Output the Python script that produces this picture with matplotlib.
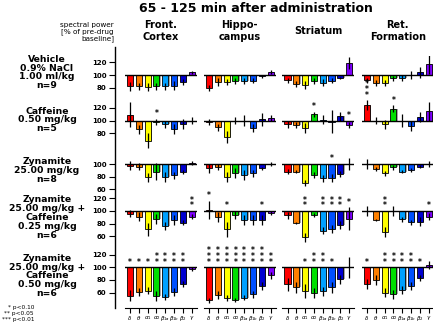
import matplotlib
matplotlib.use("Agg")
import matplotlib.pyplot as plt

W, H = 433, 327

# frequency bands and their colours
bands = [r'$\delta$', r'$\theta$', r'$\alpha_1$', r'$\alpha_2$',
         r'$\beta_{1\!a}$', r'$\beta_{1\!b}$', r'$\beta_2$', r'$\gamma$']
band_colors = ['#ff0000', '#ff8000', '#ffff00', '#00e000',
               '#00a0ff', '#0050ff', '#0000d0', '#8000ff']
regions = ['Front.\nCortex', 'Hippo-\ncampus', 'Striatum', 'Ret.\nFormation']
groups = ['Vehicle\n0.9% NaCl\n1.00 ml/kg\nn=9',
          'Caffeine\n0.50 mg/kg\nn=5',
          'Zynamite\n25.00 mg/kg\nn=8',
          'Zynamite\n25.00 mg/kg +\nCaffeine\n0.25 mg/kg\nn=6',
          'Zynamite\n25.00 mg/kg +\nCaffeine\n0.50 mg/kg\nn=6']

# spectral power, % of pre-drug baseline (one list per region)
veh_mean = [[82, 82, 81, 82, 82, 83, 89, 104],
            [79, 89, 89, 91, 91, 91, 98, 105],
            [92, 86, 84, 90, 88, 91, 95, 119],
            [92, 87, 87, 95, 95, 100, 104, 118]]
veh_sem = [[7, 6, 6, 6, 6, 7, 5, 3],
           [5, 6, 5, 5, 5, 4, 2, 3],
           [4, 5, 6, 5, 5, 4, 2, 10],
           [4, 5, 5, 4, 5, 7, 8, 16]]
veh_sig = [[0] * 8, [0] * 8, [0] * 8, [0] * 8]

caf_mean = [[109, 86, 68, 98, 94, 87, 94, 100],
            [98, 89, 74, 100, 100, 88, 102, 104],
            [94, 93, 88, 110, 101, 98, 107, 93],
            [124, 100, 94, 119, 100, 92, 106, 115]]
caf_sem = [[20, 7, 12, 5, 6, 8, 8, 5],
           [5, 6, 10, 6, 8, 7, 10, 4],
           [6, 5, 8, 4, 7, 18, 7, 5],
           [8, 6, 7, 5, 10, 8, 8, 15]]
caf_sig = [[0, 0, 0, 1, 0, 0, 0, 0],
           [0, 0, 0, 0, 0, 0, 0, 0],
           [0, 0, 0, 1, 0, 0, 0, 1],
           [3, 0, 0, 1, 0, 0, 0, 0]]

zyn_mean = [[97, 96, 79, 88, 80, 82, 87, 101],
            [93, 95, 79, 86, 82, 85, 93, 100],
            [88, 88, 70, 82, 77, 78, 84, 100],
            [100, 92, 85, 95, 88, 91, 96, 100]]
zyn_sem = [[7, 5, 7, 13, 8, 6, 3, 3],
           [7, 5, 8, 8, 8, 5, 3, 3],
           [4, 3, 5, 5, 6, 6, 5, 10],
           [8, 3, 4, 4, 3, 3, 2, 4]]
zyn_sig = [[0] * 8, [0] * 8,
           [0, 0, 0, 0, 0, 1, 0, 0],
           [0] * 8]

lo_mean = [[96, 91, 71, 88, 76, 86, 81, 91],
           [102, 91, 71, 94, 86, 86, 86, 97],
           [93, 81, 58, 94, 69, 71, 78, 88],
           [100, 86, 67, 100, 87, 82, 83, 91]]
lo_sem = [[6, 7, 10, 8, 6, 8, 4, 4],
          [14, 8, 12, 6, 8, 8, 8, 3],
          [6, 2, 7, 3, 5, 6, 6, 18],
          [8, 2, 8, 8, 4, 4, 7, 6]]
lo_sig = [[0, 0, 0, 0, 0, 0, 0, 2],
          [1, 0, 1, 0, 0, 0, 1, 0],
          [0, 0, 2, 0, 2, 2, 2, 1],
          [0, 0, 2, 0, 0, 0, 0, 1]]

hi_mean = [[55, 61, 63, 54, 53, 61, 74, 97],
           [48, 56, 51, 48, 52, 57, 70, 87],
           [73, 68, 62, 59, 62, 68, 81, 100],
           [74, 80, 60, 57, 64, 70, 83, 104]]
hi_sem = [[9, 6, 6, 8, 5, 6, 5, 3],
          [4, 6, 5, 3, 4, 6, 6, 5],
          [10, 8, 11, 8, 7, 8, 7, 17],
          [8, 8, 7, 7, 6, 6, 5, 6]]
hi_sig = [[1, 1, 1, 2, 2, 2, 2, 0],
          [3, 3, 3, 3, 3, 3, 3, 2],
          [0, 0, 1, 2, 2, 1, 0, 0],
          [1, 0, 2, 2, 2, 2, 1, 0]]

row_ticks = [[80, 100, 120], [80, 100, 120], [60, 80, 100],
             [60, 80, 100, 120], [60, 80, 100, 120]]

all_mean = [veh_mean, caf_mean, zyn_mean, lo_mean, hi_mean]
all_sem = [veh_sem, caf_sem, zyn_sem, lo_sem, hi_sem]
all_sig = [veh_sig, caf_sig, zyn_sig, lo_sig, hi_sig]

# layout in pixels
row_base = [75, 120.5, 164, 211, 267.3]
row_lim = [(70, 130), (50, 135), (50, 110), (45, 125), (40, 125)]
label_y = [72.5, 120, 170.5, 217.5, 276]
scale = 0.63          # px per % unit
col_x0 = [130, 209, 287.5, 367]
step = 8.8            # px between bars
spine_x = 115
axis_y = 308

fig = plt.figure(figsize=(W / 100, H / 100), dpi=100)


def px_axes(x0, y0, w, h):
    return fig.add_axes([x0 / W, 1 - (y0 + h) / H, w / W, h / H])


def px_text(x, y, s, **kw):
    fig.text(x / W, 1 - y / H, s, **kw)


# left spine
ax = px_axes(spine_x, 47, 1, axis_y - 47)
ax.set_xticks([]); ax.set_yticks([])
for k in ['top', 'right', 'bottom']:
    ax.spines[k].set_visible(False)
ax.spines['left'].set_linewidth(1.0)
ax.patch.set_alpha(0)

for r in range(5):
    lo, hi = row_lim[r]
    top = row_base[r] - (hi - 100) * scale
    h = (hi - lo) * scale

    # tick labels for this row
    ax = px_axes(spine_x, top, 1, h)
    ax.set_ylim(lo, hi)
    ax.set_xticks([])
    ax.set_yticks(row_ticks[r])
    ax.set_yticklabels([str(t) for t in row_ticks[r]], fontsize=5, fontweight='bold')
    ax.tick_params(axis='y', length=4, width=0.8, pad=2)
    for sp in ax.spines.values():
        sp.set_visible(False)
    ax.patch.set_alpha(0)

    px_text(47, label_y[r], groups[r], ha='center', va='center',
            fontsize=6.7, fontweight='bold', linespacing=0.98)

    for c in range(4):
        mean = all_mean[r][c]
        sem = all_sem[r][c]
        sig = all_sig[r][c]
        left = col_x0[c] - 0.6 * step
        ax = px_axes(left, top, 8.2 * step, h)
        ax.set_xlim(-0.6, 7.6)
        ax.set_ylim(lo, hi)
        ax.set_axis_off()
        x = list(range(8))
        ax.bar([i + 0.14 for i in x], [m - 100 for m in mean], bottom=100, width=0.7,
               color='#a8a8a8', zorder=1)
        ax.bar(x, [m - 100 for m in mean], bottom=100, width=0.7,
               color=band_colors, edgecolor='black', linewidth=0.6, zorder=2)
        ax.errorbar(x, mean, yerr=sem, fmt='none', ecolor='black',
                    elinewidth=0.9, capsize=0, zorder=3)
        ax.axhline(100, color='black', lw=1.0, zorder=4)
        for i in x:
            if sig[i]:
                y0 = max(100, mean[i] + sem[i]) + 1
                ax.text(i, y0, '\n'.join(['*'] * sig[i]), ha='center', va='bottom',
                        fontsize=5.5, fontweight='bold', linespacing=0.55)

# band axis at the bottom
for c in range(4):
    left = col_x0[c] - 0.6 * step
    ax = px_axes(left, axis_y - 1, 8.2 * step, 1)
    ax.set_xlim(-0.6, 7.6)
    ax.set_yticks([])
    ax.set_xticks(range(8))
    ax.set_xticklabels(bands, fontsize=4.0, fontweight='bold')
    ax.tick_params(axis='x', length=3.5, width=0.8, pad=1)
    for k in ['top', 'right', 'left']:
        ax.spines[k].set_visible(False)
    ax.patch.set_alpha(0)

px_text(256, 9, '65 - 125 min after administration', ha='center', va='center',
        fontsize=9, fontweight='bold')
for c, name in enumerate(regions):
    px_text(col_x0[c] + 3.5 * step, 31, name, ha='center', va='center',
            fontsize=7, fontweight='bold')
px_text(114, 32, 'spectral power\n[% of pre-drug\nbaseline]', ha='right', va='center',
        fontsize=5.2, linespacing=1.1)

legend_txt = ['* p<0.10', '** p<0.05', '*** p<0.01']
for k, s in enumerate(legend_txt):
    px_text(34, 307 + 6 * k, s, ha='right', va='center', fontsize=4.2)

fig.savefig('out.png', dpi=100)
